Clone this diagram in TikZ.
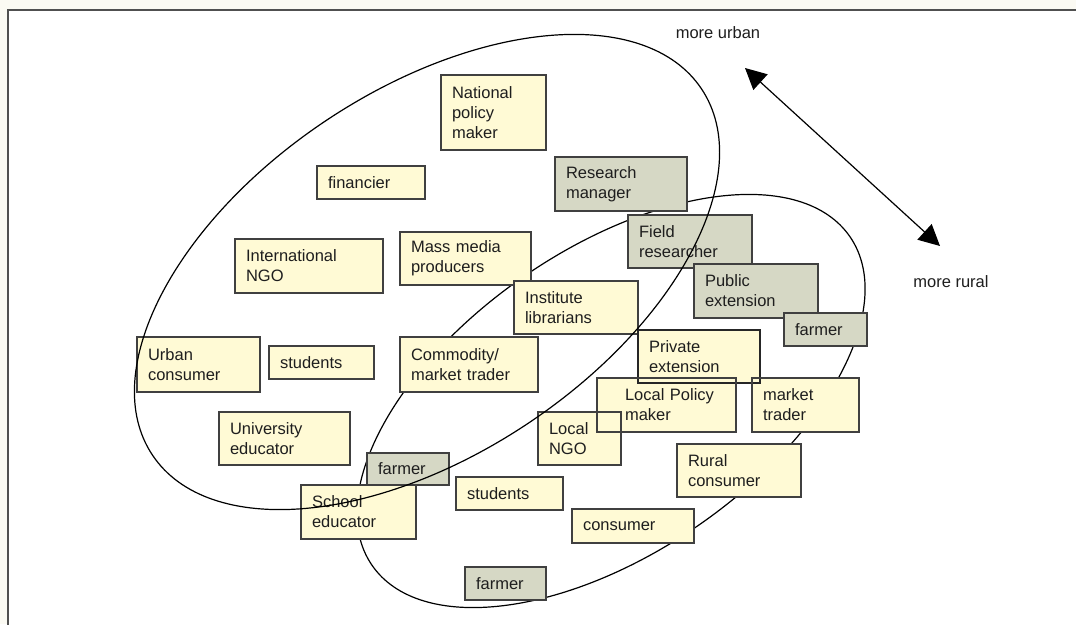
\documentclass[tikz,border=0pt]{standalone}
\usepackage{fontspec}
\setmainfont{Liberation Sans}
\usetikzlibrary{arrows.meta}

\definecolor{pagebg}{HTML}{FBFAF3}
\definecolor{framegray}{HTML}{505050}
\definecolor{creamfill}{HTML}{FFFAD5}
\definecolor{sagefill}{HTML}{D6D8C5}
\definecolor{edgegray}{HTML}{404040}
\definecolor{inkgray}{HTML}{1E1E1E}

\tikzset{
  actor/.style={draw=edgegray, line width=1.3pt, fill=creamfill, anchor=north west,
    align=left, inner xsep=11pt, inner ysep=0pt, outer sep=0pt, text=inkgray,
    font=\fontsize{16.5}{20}\selectfont},
  staff/.style={actor, fill=sagefill},
  boxsize/.style 2 args={minimum width=#1pt, minimum height=#2pt, text width=#1pt-22pt},
  edgeline/.style={draw=edgegray, line width=1.3pt},
  ring/.style={black, line width=1.2pt},
  tag/.style={text=inkgray, font=\fontsize{16.5}{20}\selectfont},
  twoway/.style={black, line width=1.2pt,
    {Triangle[length=21pt,width=21pt]}-{Triangle[length=21pt,width=21pt]}},
}

\begin{document}
\begin{tikzpicture}[x=1pt, y=-1pt]
\useasboundingbox (0,0) rectangle (1076,624);
\clip (0,0) rectangle (1076,624);
\fill [pagebg] (0,0) rectangle (1076,624);
\draw [framegray, line width=2pt, fill=white] (7.5,9.5) rectangle (1100,650); % page frame

% rural ring, under the boxes
\draw [ring, rotate around={34.5:(611,401)}] (611,401) ellipse [x radius=290, y radius=152];

\node (natpolicy)  at (441,75)  [actor, boxsize={105}{75}] {National\\policy\\maker};
\node (financier)  at (317,166) [actor, boxsize={108}{33}] {financier};
\node (intngo)     at (235,239) [actor, boxsize={148}{54}] {International\\NGO};
\node (massmedia)  at (400,232) [actor, boxsize={131}{53}] {Mass media\\producers};
\node (institute)  at (514,281) [actor, boxsize={124}{53}] {Institute\\librarians};
\node (resmanager) at (555,157) [staff, boxsize={132}{54}] {Research\\manager};
\node (fieldres)   at (628,215) [staff, boxsize={124}{53}] {Field\\researcher};
\node (pubext)     at (694,264) [staff, boxsize={124}{54}] {Public\\extension};
\node (farmerne)   at (784,313) [staff, boxsize={83}{33}]  {farmer};
\node (urbancons)  at (137,337) [actor, boxsize={123}{55}] {Urban\\consumer};
\node (studentsw)  at (269,346) [actor, boxsize={105}{33}] {students};
\node (commodity)  at (400,337) [actor, boxsize={138}{55}] {Commodity/\\market trader};
\node (univedu)    at (219,412) [actor, boxsize={131}{53}] {University\\educator};
\node (localngo)   at (538,412) [actor, boxsize={83}{53}]  {Local\\NGO};
\node (lpolicy)    at (597,378) [actor, boxsize={139}{54}] {\hspace*{17pt}Local Policy\\\hspace*{17pt}maker};
\node (mtrader)    at (752,378) [actor, boxsize={107}{54}] {market\\trader};
\node (privext)    at (638,330) [actor, boxsize={122}{53}, draw=black!85, line width=2pt] {Private\\extension};
\node (ruralcons)  at (677,444) [actor, boxsize={124}{53}] {Rural\\consumer};
\node (farmermid)  at (367,453) [staff, boxsize={82}{32}]  {farmer};
\node (schooledu)  at (301,485) [actor, boxsize={115}{54}] {School\\educator};
\node (studentss)  at (456,477) [actor, boxsize={107}{33}] {students};
\node (consumer)   at (572,509) [actor, boxsize={122}{34}] {consumer};
\node (farmersouth) at (465,567) [staff, boxsize={81}{33}] {farmer};

% overlapping borders stay visible
\foreach \n in {localngo, lpolicy, mtrader}
  \draw [edgeline] (\n.south west) rectangle (\n.north east);

% urban ring, over the boxes
\draw [ring, rotate around={33.7:(427,272)}] (427,272) ellipse [x radius=330, y radius=182];

\coordinate (urbanend) at (745,68);
\coordinate (ruralend) at (940,246);
\draw [twoway] (urbanend) -- (ruralend);
\node (moreurban) at (718,33)  [tag] {more urban};
\node (morerural) at (951,282) [tag] {more rural};
\end{tikzpicture}
\end{document}
